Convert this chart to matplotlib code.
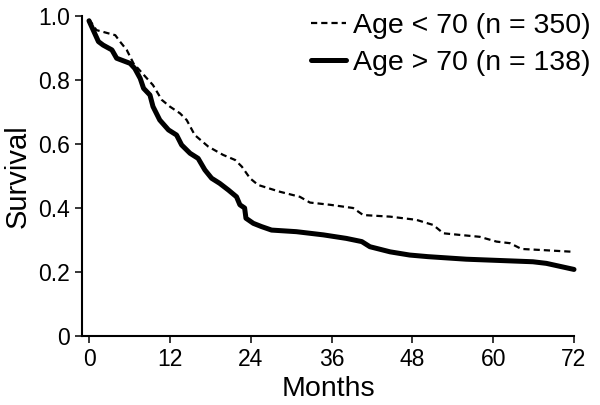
import matplotlib
matplotlib.use("Agg")
import matplotlib.pyplot as plt

plt.rcParams['font.family'] = ['Liberation Sans', 'DejaVu Sans']

# Age < 70 (n = 350), dashed
months_young = [0, 1.1, 3.9, 4.6, 5.6, 6.6, 8.6, 9.5, 10.8, 12.0, 13.5, 14.5, 15.7,
                17.7, 19.9, 21.7, 22.7, 23.9, 25.1, 28.3, 31.3, 32.8, 35.8, 39.2,
                40.7, 44.7, 48.6, 50.3, 51.1, 52.6, 55.0, 58.0, 60.5, 62.5, 64.2,
                66.9, 72.0]
surv_young = [0.99, 0.956, 0.94, 0.92, 0.894, 0.852, 0.805, 0.784, 0.738, 0.717, 0.696,
              0.675, 0.628, 0.592, 0.566, 0.55, 0.529, 0.493, 0.472, 0.451, 0.435,
              0.417, 0.41, 0.40, 0.378, 0.373, 0.363, 0.352, 0.347, 0.321, 0.316,
              0.31, 0.295, 0.29, 0.272, 0.269, 0.263]

# Age > 70 (n = 138), solid
months_old = [0, 1.4, 2.1, 3.4, 4.1, 4.85, 6.1, 6.8, 7.6, 8.1, 9.05, 9.5, 10.5, 11.8,
              13.0, 13.75, 15.0, 16.2, 17.2, 18.2, 19.4, 20.7, 21.9, 22.4, 23.1,
              23.3, 24.4, 25.6, 27.1, 30.8, 34.8, 38.2, 40.5, 41.7, 44.7, 47.6,
              50.3, 56.0, 65.9, 67.9, 72.0]
surv_old = [0.985, 0.92, 0.909, 0.894, 0.868, 0.862, 0.852, 0.836, 0.805, 0.774, 0.753,
            0.717, 0.675, 0.644, 0.628, 0.597, 0.571, 0.555, 0.519, 0.493, 0.477,
            0.456, 0.435, 0.41, 0.40, 0.368, 0.352, 0.342, 0.331, 0.326, 0.316,
            0.305, 0.295, 0.279, 0.263, 0.253, 0.248, 0.24, 0.232, 0.227, 0.208]

xticks = [0, 12, 24, 36, 48, 60, 72]
yticks = [0, 0.2, 0.4, 0.6, 0.8, 1.0]
yticklabels = ["0", "0.2", "0.4", "0.6", "0.8", "1.0"]

fig = plt.figure(figsize=(6, 4.05), dpi=100)
ax = fig.add_axes([82/600, 1-336/405, (574-82)/600, 320/405])

ax.plot(months_young, surv_young, color='black', lw=1.6,
        linestyle=(0, (2.8, 1.8)), clip_on=False, label="Age < 70 (n = 350)")
ax.plot(months_old, surv_old, color='black', lw=3.6, solid_joinstyle='round',
        solid_capstyle='round', clip_on=False, label="Age > 70 (n = 138)")

ax.set_xlim(-1.04, 72)
ax.set_ylim(0, 1.0)
ax.set_xticks(xticks)
ax.set_yticks(yticks)
ax.set_yticklabels(yticklabels)
for s in ['top', 'right']:
    ax.spines[s].set_visible(False)
for s in ['left', 'bottom']:
    ax.spines[s].set_linewidth(1.5)
ax.tick_params(length=5, width=1.1, pad=3.5, labelsize=16.5, direction='out')

ax.set_xlabel("Months", fontsize=20.5, labelpad=4)
ax.set_ylabel("Survival", fontsize=21, labelpad=5)

fig.legend(loc='upper right', bbox_to_anchor=(0.985, 0.968), frameon=False,
           fontsize=20.5, handlelength=1.25, handletextpad=0.25,
           labelspacing=0.4, borderpad=0, borderaxespad=0)

fig.savefig("out.png", dpi=100)
